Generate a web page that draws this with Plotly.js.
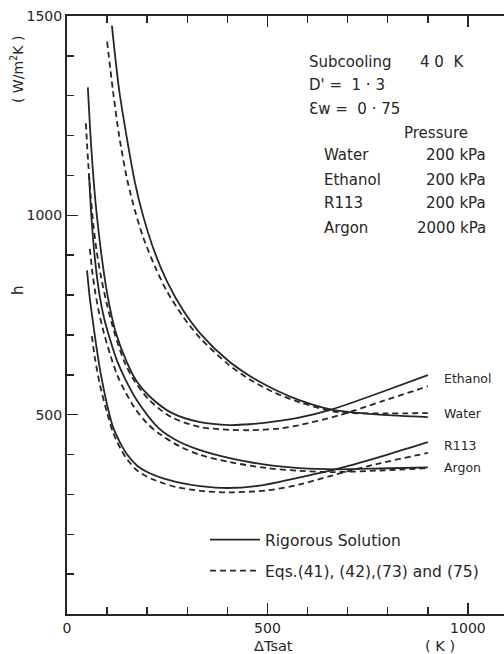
<!DOCTYPE html>
<html>
<head>
<meta charset="utf-8">
<script src="https://cdn.plot.ly/plotly-3.0.1.min.js"></script>
<style>html,body{margin:0;padding:0;background:#fff;}#chart{width:504px;height:654px;}</style>
</head>
<body>
<div id="chart"></div>
<script>
// ---- Data (ΔTsat in K, h in W/m2K) ----
const waterSolidT   = [112, 130, 150, 170, 190, 220, 250, 290, 332, 400, 456, 520, 581, 663, 780, 900];
const waterSolidH   = [1476, 1315, 1190, 1080, 998, 904, 833, 761, 704, 637, 597, 562, 536, 512, 500, 494];
const waterDashT    = [100, 115, 130, 150, 170, 190, 220, 250, 290, 332, 400, 456, 520, 581, 663, 706, 800, 900];
const waterDashH    = [1436, 1310, 1200, 1090, 1010, 945, 870, 808, 745, 692, 628, 588, 554, 531, 508, 504, 503, 504];

const ethanolSolidT = [52, 58, 64, 70, 76, 88, 100, 120, 150, 175, 207, 260, 332, 406, 456, 520, 581, 663, 780, 900];
const ethanolSolidH = [1321, 1210, 1120, 1045, 985, 885, 805, 712, 630, 582, 545, 505, 481, 474, 476, 483, 493, 514, 555, 599];
const ethanolDashT  = [47, 53, 59, 66, 74, 85, 100, 120, 145, 170, 205, 260, 332, 406, 456, 530, 581, 681, 790, 900];
const ethanolDashH  = [1231, 1130, 1050, 975, 910, 845, 775, 700, 628, 582, 537, 494, 469, 462, 461, 465, 474, 499, 535, 571];

const r113SolidT    = [50, 56, 63, 72, 82, 100, 115, 135, 150, 175, 200, 240, 274, 332, 400, 480, 581, 681, 800, 900];
const r113SolidH    = [862, 800, 745, 680, 615, 525, 468, 425, 400, 372, 356, 340, 331, 321, 316, 322, 343, 366, 400, 431];
const r113DashT     = [62, 70, 82, 100, 115, 135, 150, 175, 200, 240, 274, 332, 400, 499, 581, 663, 780, 900];
const r113DashH     = [697, 640, 575, 505, 455, 412, 388, 360, 344, 328, 318, 309, 305, 310, 325, 348, 378, 404];

const argonSolidT   = [55, 60, 66, 73, 82, 93, 107, 125, 145, 175, 230, 280, 332, 406, 499, 580, 673, 780, 900];
const argonSolidH   = [1100, 1010, 930, 860, 795, 740, 690, 635, 590, 535, 465, 432, 411, 391, 374, 366, 363, 365, 368];
const argonDashT    = [57, 63, 70, 80, 92, 108, 125, 145, 170, 200, 230, 280, 332, 406, 499, 580, 663, 780, 900];
const argonDashH    = [916, 860, 810, 755, 705, 650, 600, 558, 515, 478, 452, 421, 399, 381, 366, 359, 356, 360, 366];

const fluidNames    = ['Water', 'Ethanol', 'R113', 'Argon'];
const pressures     = ['200 kPa', '200 kPa', '200 kPa', '2000 kPa'];
const xTickVals     = [0, 500, 1000];
const xTickText     = ['0', '500', '1000'];
const yTickVals     = [500, 1000, 1500];
const yTickText     = ['500', '1000', '1500'];
const legendNames   = ['Rigorous Solution', 'Eqs.(41), (42),(73) and (75)'];

// ---- Styling ----
const ink = '#262626';
const FONT = 'DejaVu Sans';

function solid(t, h, showLegend) {
  return {x: t, y: h, type: 'scatter', mode: 'lines',
    line: {color: ink, width: 1.8, shape: 'spline', smoothing: 0.8},
    name: legendNames[0], legendgroup: 'a', showlegend: !!showLegend, hoverinfo: 'skip'};
}
function dashed(t, h, showLegend) {
  return {x: t, y: h, type: 'scatter', mode: 'lines',
    line: {color: ink, width: 1.8, dash: '6px,4px', shape: 'spline', smoothing: 0.8},
    name: legendNames[1], legendgroup: 'b', showlegend: !!showLegend, hoverinfo: 'skip'};
}

const traces = [
  solid(waterSolidT, waterSolidH, true),
  solid(ethanolSolidT, ethanolSolidH),
  solid(r113SolidT, r113SolidH),
  solid(argonSolidT, argonSolidH),
  dashed(waterDashT, waterDashH, true),
  dashed(ethanolDashT, ethanolDashH),
  dashed(r113DashT, r113DashH),
  dashed(argonDashT, argonDashH)
];

// pixel helpers for text placement only
const px2x = p => (p - 67) / 0.401;
const py2y = p => (614 - p) / 0.3987;

const ann = [];
function txt(text, px, py, opts) {
  ann.push(Object.assign({text: text, x: px2x(px), y: py2y(py), xref: 'x', yref: 'y',
    showarrow: false, xanchor: 'left', yanchor: 'middle',
    font: {family: FONT, size: 15, color: ink}}, opts || {}));
}
txt('Subcooling', 307, 62);
txt('4 0  K', 418, 62);
txt("D' =  1 · 3", 307, 85);
txt('Ɛw =  0 · 75', 307, 109);
txt('Pressure', 402, 133);
const rowY = [155, 180, 203, 228];
fluidNames.forEach((n, i) => {
  txt(n, 322, rowY[i]);
  txt(pressures[i], 488, rowY[i], {xanchor: 'right'});
});
// curve labels
const endLabelY = [413, 378, 445, 467];
fluidNames.forEach((n, i) => txt(n, 442, endLabelY[i], {font: {family: FONT, size: 12.5, color: ink}}));
// axis titles
ann.push({text: 'ΔTsat', x: px2x(274), y: -(646 - 614) / 598, xref: 'x', yref: 'paper', showarrow: false,
  xanchor: 'center', yanchor: 'middle', font: {family: FONT, size: 14.5, color: ink}});
ann.push({text: '( K )', x: px2x(440), y: -(646 - 614) / 598, xref: 'x', yref: 'paper', showarrow: false,
  xanchor: 'center', yanchor: 'middle', font: {family: FONT, size: 14.5, color: ink}});
ann.push({text: 'h', x: (18 - 67) / 437, y: py2y(290), xref: 'paper', yref: 'y', showarrow: false,
  textangle: -90, xanchor: 'center', yanchor: 'middle', font: {family: FONT, size: 15, color: ink}});
ann.push({text: '( W/m<sup>2</sup>K )', x: (17 - 67) / 437, y: py2y(70), xref: 'paper', yref: 'y', showarrow: false,
  textangle: -90, xanchor: 'center', yanchor: 'middle', font: {family: FONT, size: 14, color: ink}});

const axisCommon = {
  showgrid: false, zeroline: false, showline: true, linecolor: ink, linewidth: 2,
  ticks: 'inside', ticklen: 11, tickwidth: 1.5, tickcolor: ink,
  tickfont: {family: FONT, size: 14, color: ink}, fixedrange: true
};

const layout = {
  width: 504, height: 654,
  margin: {l: 67, r: 0, t: 16, b: 40, pad: 0},
  paper_bgcolor: '#fff', plot_bgcolor: '#fff',
  font: {family: FONT, size: 13, color: ink},
  showlegend: true,
  legend: {x: (205 - 67) / 437, y: (614 - 523) / 598, xanchor: 'left', yanchor: 'top',
    bgcolor: 'rgba(0,0,0,0)', font: {family: FONT, size: 15.5, color: ink},
    traceorder: 'grouped', tracegroupgap: 8, itemwidth: 50},
  xaxis: Object.assign({}, axisCommon, {range: [0, 1090], mirror: 'ticks',
    tickmode: 'array', tickvals: xTickVals, ticktext: xTickText,
    minor: {dtick: 100, ticks: 'inside', ticklen: 7, tickwidth: 1.5, tickcolor: ink}}),
  yaxis: Object.assign({}, axisCommon, {range: [0, 1500], mirror: false,
    tickmode: 'array', tickvals: yTickVals, ticktext: yTickText,
    minor: {dtick: 100, ticks: 'inside', ticklen: 7, tickwidth: 1.5, tickcolor: ink}}),
  annotations: ann
};

Plotly.newPlot('chart', traces, layout, {staticPlot: true, displayModeBar: false});
</script>
</body>
</html>
